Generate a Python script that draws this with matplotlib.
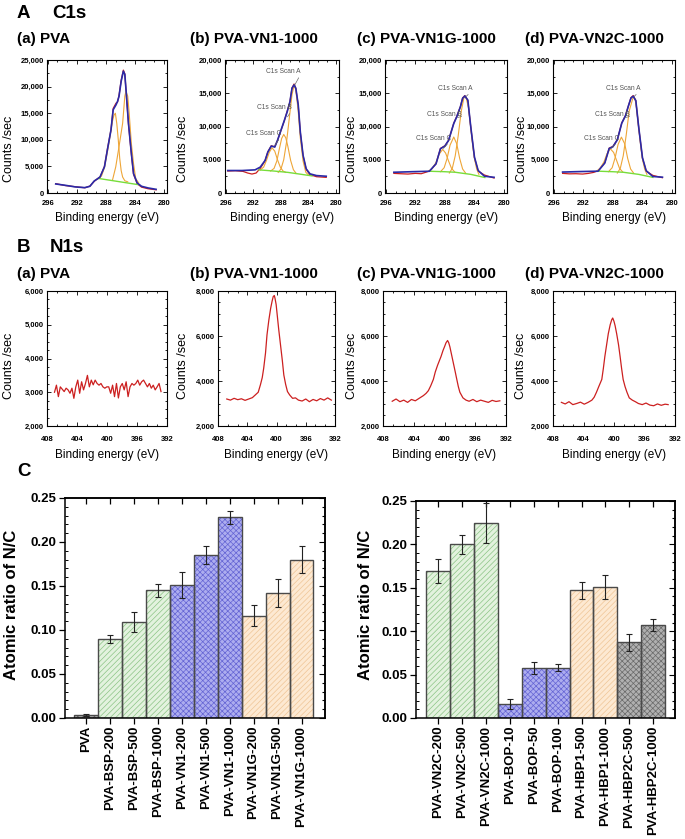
import numpy as np
import matplotlib.pyplot as plt
from matplotlib.ticker import MultipleLocator, AutoMinorLocator, FuncFormatter

plt.rcParams['font.family'] = ['Liberation Sans', 'DejaVu Sans']
plt.rcParams['font.weight'] = 'bold'
plt.rcParams['hatch.linewidth'] = 0.5

# ---------------- C1s spectra (binding energy eV, counts/sec) ----------------
c1s_a_env_x = [294.9, 293.6, 292.2, 290.9, 290.2, 289.6, 289.1, 288.8, 288.2, 287.8, 287.3, 287.0, 286.6,
               286.4, 286.2, 285.9, 285.6, 285.4, 285.2, 284.9, 284.5, 284.2, 283.7, 283.1, 282.2, 281.1]
c1s_a_env_y = [1700, 1450, 1140, 1010, 1260, 2270, 2710, 3030, 4920, 8080, 11860, 15650, 16600,
               17230, 18170, 21010, 22900, 22280, 18800, 13120, 7450, 3660, 1890, 1260, 950, 690]
c1s_a_raw_y = [1750, 1400, 1180, 980, 1300, 2200, 2750, 3000, 5000, 8200, 11900, 15900, 16900,
               17100, 18300, 21200, 23100, 22400, 18600, 13000, 7300, 3500, 1750, 1100, 800, 600]
c1s_a_p1_x = [289.0, 288.6, 288.2, 287.8, 287.4, 287.1, 286.9, 286.7, 286.5, 286.3, 286.1, 285.9, 285.7, 285.4, 285.0]
c1s_a_p1_y = [2700, 3200, 4800, 7700, 11000, 13500, 14600, 15000, 13000, 10000, 6500, 4200, 3000, 2300, 2100]
c1s_a_p2_x = [287.1, 286.65, 286.2, 285.7, 285.4, 285.25, 285.0, 284.8, 284.5, 284.2, 283.9, 283.5]
c1s_a_p2_y = [2400, 4900, 8700, 13100, 18200, 19100, 18200, 15000, 9300, 5500, 2700, 1900]
c1s_a_bg_x = [288.9, 283.6]
c1s_a_bg_y = [2710, 1580]

c1s_b_env_x = [295.7, 293.6, 291.75, 291.0, 290.3, 289.9, 289.4, 288.9, 288.5, 288.0, 287.5, 287.1,
               286.7, 286.4, 286.1, 285.85, 285.5, 285.2, 284.8, 284.35, 283.8, 282.85, 281.45]
c1s_b_env_y = [3380, 3380, 3480, 3890, 4890, 6150, 7060, 6910, 7920, 9440, 10950, 12210,
               13730, 15760, 16260, 15760, 13230, 9180, 5650, 3640, 2880, 2620, 2520]
c1s_b_raw_x = [295.7, 294.6, 293.5, 292.8, 292.2, 291.6, 291.0, 290.3, 289.9, 289.4, 288.9, 288.5, 288.0,
               287.5, 287.1, 286.7, 286.4, 286.1, 285.85, 285.5, 285.2, 284.8, 284.35, 283.8, 282.85, 281.45]
c1s_b_raw_y = [3300, 3350, 3250, 3000, 2850, 3000, 3700, 4850, 6200, 7100, 6950, 7900, 9400,
               10900, 12300, 13700, 15800, 16400, 15700, 13200, 9100, 5600, 3550, 2750, 2450, 2350]
c1s_b_pc_x = [291.0, 290.5, 290.1, 289.7, 289.3, 288.9, 288.5, 288.1, 287.7, 287.3]
c1s_b_pc_y = [3450, 3900, 4900, 6100, 6800, 6300, 5000, 3900, 3300, 3100]
c1s_b_pb_x = [289.5, 289.0, 288.6, 288.2, 287.9, 287.6, 287.3, 287.0, 286.6, 286.2, 285.8]
c1s_b_pb_y = [3300, 3700, 4800, 6800, 8200, 8800, 8300, 7000, 4900, 3500, 2950]
c1s_b_pa_x = [288.4, 288.0, 287.6, 287.2, 286.8, 286.4, 286.1, 285.85, 285.5, 285.2, 284.8, 284.4, 284.0]
c1s_b_pa_y = [3100, 3600, 5000, 7600, 11200, 14800, 16200, 15500, 12300, 8300, 4800, 3100, 2700]
c1s_b_bg_x = [291.2, 289.0, 287.0, 285.0, 283.5]
c1s_b_bg_y = [3480, 3300, 3100, 2800, 2570]

c1s_c_env_x = [294.9, 292.5, 290.1, 289.2, 288.6, 288.0, 287.5, 286.8, 286.4, 285.9, 285.6, 285.3,
               284.9, 284.5, 284.0, 283.5, 282.65, 281.35]
c1s_c_env_y = [3120, 3200, 3270, 4390, 6660, 7060, 7920, 10450, 11450, 12970, 14240, 14590,
               13980, 9940, 5390, 3380, 2520, 2360]
c1s_c_raw_x = [294.9, 294.0, 293.0, 292.0, 291.2, 290.5, 290.0, 289.2, 288.6, 288.0, 287.5, 286.8,
               286.4, 285.9, 285.6, 285.3, 284.9, 284.5, 284.0, 283.5, 282.65, 281.35]
c1s_c_raw_y = [2950, 2900, 2850, 2950, 2900, 3150, 3350, 4400, 6700, 7100, 7900, 10500,
               11500, 13000, 14300, 14650, 13900, 9900, 5300, 3300, 2700, 2250]
c1s_c_pc_x = [290.2, 289.7, 289.2, 288.8, 288.3, 287.9, 287.5, 287.1, 286.7]
c1s_c_pc_y = [3300, 3700, 4600, 5800, 6560, 6000, 4800, 3700, 3200]
c1s_c_pb_x = [288.6, 288.1, 287.7, 287.3, 286.8, 286.4, 286.0, 285.6, 285.2]
c1s_c_pb_y = [3200, 3800, 5200, 7200, 8420, 7400, 5200, 3600, 3000]
c1s_c_pa_x = [287.4, 287.0, 286.6, 286.2, 285.8, 285.4, 285.1, 284.8, 284.5, 284.2, 284.0, 283.7, 283.4]
c1s_c_pa_y = [3000, 3700, 5600, 8600, 12200, 14500, 14200, 12800, 9800, 6800, 5200, 3600, 2800]
c1s_c_bg_x = [290.1, 288.0, 286.6, 284.5, 282.6]
c1s_c_bg_y = [3270, 3200, 3120, 2800, 2330]

c1s_d_env_x = [294.8, 292.5, 290.0, 289.1, 288.5, 288.0, 287.4, 286.8, 286.3, 285.9, 285.55, 285.25,
               284.9, 284.5, 284.0, 283.5, 282.6, 281.3]
c1s_d_env_y = [3150, 3220, 3280, 4500, 6700, 6950, 8000, 10500, 11600, 13100, 14300, 14550,
               13900, 9800, 5300, 3350, 2480, 2380]
c1s_d_raw_x = [294.8, 293.9, 293.0, 292.1, 291.3, 290.6, 290.0, 289.1, 288.5, 288.0, 287.4, 286.8,
               286.3, 285.9, 285.55, 285.25, 284.9, 284.5, 284.0, 283.5, 282.6, 281.3]
c1s_d_raw_y = [2950, 2880, 2900, 2850, 2950, 3100, 3350, 4550, 6750, 7000, 8000, 10550,
               11650, 13100, 14350, 14650, 13850, 9750, 5250, 3300, 2650, 2300]
c1s_d_pc_x = [290.2, 289.7, 289.2, 288.8, 288.35, 287.9, 287.5, 287.1, 286.7]
c1s_d_pc_y = [3300, 3750, 4700, 5900, 6650, 6100, 4900, 3700, 3200]
c1s_d_pb_x = [288.6, 288.1, 287.7, 287.3, 286.85, 286.4, 286.0, 285.6, 285.2]
c1s_d_pb_y = [3200, 3800, 5300, 7300, 8400, 7400, 5200, 3600, 3000]
c1s_d_pa_x = [287.4, 287.0, 286.6, 286.2, 285.8, 285.25, 285.0, 284.8, 284.5, 284.2, 284.0, 283.7, 283.4]
c1s_d_pa_y = [3000, 3700, 5600, 8700, 12300, 14450, 14100, 12800, 9700, 6700, 5100, 3600, 2800]
c1s_d_bg_x = [290.0, 288.0, 286.6, 284.5, 282.6]
c1s_d_bg_y = [3280, 3200, 3120, 2800, 2350]

# ---------------- N1s spectra ----------------
n1s_a_y = [3000, 3210, 2870, 3160, 3090, 3020, 3120, 3070, 2970, 3120, 2820, 3160, 3360, 2970,
           3310, 3070, 3260, 3500, 3160, 3360, 3220, 3360, 3260, 3210, 3260, 3160, 3120, 3160,
           3160, 2970, 3210, 2870, 3260, 2830, 3160, 3260, 3070, 3310, 2870, 3160, 3260, 3210,
           3260, 3360, 3210, 3310, 3360, 3260, 3160, 3260, 3120, 3210, 3070, 3160, 3260, 3020]
n1s_a_x = np.linspace(407.0, 392.8, len(n1s_a_y))

n1s_b_x = [406.8, 406.3, 405.8, 405.3, 404.8, 404.3, 403.8, 403.3, 402.9, 402.5, 402.2, 401.95, 401.75, 401.5,
           401.3, 401.05, 400.8, 400.6, 400.45, 400.3, 400.2, 400.05, 399.9, 399.7, 399.45, 399.2, 399.0, 398.75,
           398.5, 398.2, 397.8, 397.4, 397.0, 396.5, 396.0, 395.5, 395.0, 394.5, 394.0, 393.5, 393.0, 392.5]
n1s_b_y = [3200, 3150, 3230, 3170, 3210, 3140, 3200, 3260, 3380, 3500, 3830, 4150, 4570, 5250,
           6050, 6700, 7230, 7550, 7750, 7800, 7670, 7400, 6930, 6300, 5600, 4900, 4270, 3850,
           3530, 3380, 3230, 3250, 3150, 3110, 3200, 3080, 3180, 3120, 3220, 3150, 3250, 3150]

n1s_c_x = [406.8, 406.3, 405.8, 405.3, 404.8, 404.3, 403.8, 403.3, 402.75, 402.4, 402.1, 401.8, 401.45,
           401.2, 400.9, 400.45, 400.2, 400.0, 399.8, 399.6, 399.45, 399.3, 399.1, 398.85, 398.6, 398.4,
           398.2, 398.0, 397.6, 397.2, 396.8, 396.3, 395.8, 395.3, 394.8, 394.3, 393.8, 393.3, 392.8]
n1s_c_y = [3100, 3200, 3080, 3150, 3050, 3180, 3120, 3230, 3350, 3450, 3570, 3780, 4070,
           4400, 4700, 5090, 5350, 5520, 5700, 5800, 5700, 5520, 5200, 4800, 4400, 4070,
           3750, 3500, 3250, 3150, 3100, 3180, 3080, 3150, 3100, 3050, 3140, 3090, 3120]

n1s_d_x = [406.9, 406.4, 405.9, 405.4, 404.9, 404.4, 403.9, 403.4, 402.9, 402.6, 402.3, 402.0, 401.6, 401.4,
           401.2, 400.95, 400.75, 400.5, 400.3, 400.17, 400.0, 399.85, 399.65, 399.4, 399.2, 399.0, 398.8,
           398.55, 398.3, 398.0, 397.6, 397.2, 396.8, 396.3, 395.8, 395.3, 394.8, 394.3, 393.8, 393.3, 392.9]
n1s_d_y = [3050, 2980, 3080, 2950, 3000, 3060, 2970, 3050, 3150, 3280, 3500, 3750, 4070, 4550,
           5090, 5650, 6100, 6500, 6720, 6800, 6650, 6450, 6100, 5600, 5090, 4550, 4070,
           3750, 3500, 3250, 3150, 3080, 3000, 2950, 3020, 2930, 2900, 2980, 2920, 2970, 2950]

# ---------------- N/C atomic ratio ----------------
left_names = ['PVA', 'PVA-BSP-200', 'PVA-BSP-500', 'PVA-BSP-1000', 'PVA-VN1-200', 'PVA-VN1-500',
              'PVA-VN1-1000', 'PVA-VN1G-200', 'PVA-VN1G-500', 'PVA-VN1G-1000']
left_vals = [0.003, 0.090, 0.109, 0.145, 0.151, 0.185, 0.228, 0.116, 0.142, 0.180]
left_errs = [0.001, 0.0045, 0.011, 0.0075, 0.015, 0.010, 0.0075, 0.012, 0.016, 0.015]
left_groups = ['grey', 'green', 'green', 'green', 'blue', 'blue', 'blue', 'peach', 'peach', 'peach']

right_names = ['PVA-VN2C-200', 'PVA-VN2C-500', 'PVA-VN2C-1000', 'PVA-BOP-10', 'PVA-BOP-50', 'PVA-BOP-100',
               'PVA-HBP1-500', 'PVA-HBP1-1000', 'PVA-HBP2C-500', 'PVA-HBP2C-1000']
right_vals = [0.169, 0.200, 0.225, 0.016, 0.058, 0.058, 0.147, 0.151, 0.087, 0.107]
right_errs = [0.014, 0.011, 0.023, 0.0055, 0.007, 0.004, 0.0095, 0.014, 0.010, 0.0065]
right_groups = ['green', 'green', 'green', 'blue', 'blue', 'blue', 'peach', 'peach', 'grey', 'grey']

# face colour, hatch colour, hatch
bar_styles = {
    'green': ('#e3f2de', '#8cc486', '//////'),
    'blue': ('#adadef', '#6464d4', 'xxxxxx'),
    'peach': ('#fde9d2', '#efc596', '//////'),
    'grey': ('#b0b0b0', '#6a6a6a', 'xxxxxx'),
}

BLUE, RED, ORANGE, GREEN = '#2a2aa8', '#cc2020', '#eea638', '#77dd3a'

W, H = 685, 839
fig = plt.figure(figsize=(W / 100, H / 100), dpi=100)


def px_axes(l, r, t, b):
    return fig.add_axes([l / W, 1 - b / H, (r - l) / W, (b - t) / H])


def ftext(x, y, s, **kw):
    fig.text(x / W, 1 - y / H, s, **kw)


def style_spectrum(ax, xlim, ylim, ystep, yminor, xpad):
    ax.set_xlim(*xlim)
    ax.set_ylim(*ylim)
    ax.xaxis.set_major_locator(MultipleLocator(4))
    ax.xaxis.set_minor_locator(AutoMinorLocator(3))
    ax.yaxis.set_major_locator(MultipleLocator(ystep))
    ax.yaxis.set_minor_locator(AutoMinorLocator(yminor))
    ax.yaxis.set_major_formatter(FuncFormatter(lambda v, p: f"{v:,.0f}"))
    ax.tick_params(which='both', direction='in', top=True, right=True, labelsize=5.5, pad=2, width=0.6)
    ax.tick_params(axis='x', pad=xpad)
    ax.tick_params(which='major', length=3)
    ax.tick_params(which='minor', length=1.5)
    for s in ax.spines.values():
        s.set_linewidth(0.8)


def annotate(ax, text, txy, xy):
    ax.annotate(text, xy=xy, xytext=txy, ha='center', va='center', fontsize=4.8, weight='normal',
                color='#555555',
                arrowprops=dict(arrowstyle='-', color='#666666', lw=0.5, relpos=(1, 0.2),
                                shrinkA=0, shrinkB=0))


# ---- Panel A: C1s ----
ftext(17, 14, 'A', fontsize=13.5, va='center')
ftext(52, 14, 'C1s', fontsize=13.5, va='center')

c1s_boxes = [(47, 167), (225, 339), (385, 507), (553, 675)]
c1s_titles = ['(a) PVA', '(b) PVA-VN1-1000', '(c) PVA-VN1G-1000', '(d) PVA-VN2C-1000']
title_x = [17, 190, 357, 525]
ylab_x = [9, 183, 352, 522]

c1s_sets = [
    dict(env=(c1s_a_env_x, c1s_a_env_y), raw=(c1s_a_env_x, c1s_a_raw_y),
         peaks=[(c1s_a_p1_x, c1s_a_p1_y), (c1s_a_p2_x, c1s_a_p2_y)], bg=(c1s_a_bg_x, c1s_a_bg_y)),
    dict(env=(c1s_b_env_x, c1s_b_env_y), raw=(c1s_b_raw_x, c1s_b_raw_y),
         peaks=[(c1s_b_pc_x, c1s_b_pc_y), (c1s_b_pb_x, c1s_b_pb_y), (c1s_b_pa_x, c1s_b_pa_y)],
         bg=(c1s_b_bg_x, c1s_b_bg_y)),
    dict(env=(c1s_c_env_x, c1s_c_env_y), raw=(c1s_c_raw_x, c1s_c_raw_y),
         peaks=[(c1s_c_pc_x, c1s_c_pc_y), (c1s_c_pb_x, c1s_c_pb_y), (c1s_c_pa_x, c1s_c_pa_y)],
         bg=(c1s_c_bg_x, c1s_c_bg_y)),
    dict(env=(c1s_d_env_x, c1s_d_env_y), raw=(c1s_d_raw_x, c1s_d_raw_y),
         peaks=[(c1s_d_pc_x, c1s_d_pc_y), (c1s_d_pb_x, c1s_d_pb_y), (c1s_d_pa_x, c1s_d_pa_y)],
         bg=(c1s_d_bg_x, c1s_d_bg_y)),
]

for i, (box, data) in enumerate(zip(c1s_boxes, c1s_sets)):
    ax = px_axes(box[0], box[1], 60, 193)
    ax.plot(*data['raw'], color=RED, lw=0.9)
    for px_, py_ in data['peaks']:
        ax.plot(px_, py_, color=ORANGE, lw=0.8)
    ax.plot(*data['bg'], color=GREEN, lw=1.0)
    ax.plot(*data['env'], color=BLUE, lw=1.2)
    style_spectrum(ax, (296.1, 279.6), (0, 25000 if i == 0 else 20000), 5000, 2, 5)
    if i == 1:
        annotate(ax, 'C1s Scan A', (287.6, 18270), (286.0, 16250))
        annotate(ax, 'C1s Scan B', (288.9, 12880), (287.05, 11450))
        annotate(ax, 'C1s Scan C', (290.45, 8940), (288.9, 7170))
    elif i > 1:
        annotate(ax, 'C1s Scan A', (286.6, 15760), (285.15, 14500))
        annotate(ax, 'C1s Scan B', (288.1, 11820), (286.3, 11350))
        annotate(ax, 'C1s Scan C', (289.55, 8270), (288.2, 6700))
    ftext(title_x[i], 39, c1s_titles[i], fontsize=11, va='center')
    ftext(ylab_x[i], 149, 'Counts /sec', rotation=90, ha='center', va='center', fontsize=9, weight='normal')
    ftext((box[0] + box[1]) / 2, 218, 'Binding energy (eV)', ha='center', va='center', fontsize=8.5,
          weight='normal')

# ---- Panel B: N1s ----
ftext(17, 248, 'B', fontsize=13.5, va='center')
ftext(50, 248, 'N1s', fontsize=13.5, va='center')

n1s_boxes = [(47, 167), (218, 335), (383, 506), (553, 675)]
n1s_sets = [(n1s_a_x, n1s_a_y), (n1s_b_x, n1s_b_y), (n1s_c_x, n1s_c_y), (n1s_d_x, n1s_d_y)]
n1s_ylab_x = [9, 183, 352, 521]

for i, (box, (sx, sy)) in enumerate(zip(n1s_boxes, n1s_sets)):
    ax = px_axes(box[0], box[1], 291, 426)
    ax.plot(sx, sy, color=RED, lw=0.9)
    if i == 0:
        style_spectrum(ax, (408, 392), (2000, 6000), 1000, 4, 7)
    else:
        style_spectrum(ax, (408, 392), (2000, 8000), 2000, 4, 7)
    ftext(title_x[i], 274, c1s_titles[i], fontsize=11, va='center')
    ftext(n1s_ylab_x[i], 366, 'Counts /sec', rotation=90, ha='center', va='center', fontsize=9, weight='normal')
    ftext((box[0] + box[1]) / 2, 455, 'Binding energy (eV)', ha='center', va='center', fontsize=8.5,
          weight='normal')

# ---- Panel C: N/C ratio ----
ftext(17, 472, 'C', fontsize=13.5, va='center')


def draw_bars(ax, names, vals, errs, groups, xlim):
    x = np.arange(len(vals))
    for xi, v, g in zip(x, vals, groups):
        face, hcol, hatch = bar_styles[g]
        ax.bar(xi, v, width=1, color=face, edgecolor=hcol, hatch=hatch, linewidth=0)
    ax.bar(x, vals, width=1, fill=False, edgecolor='#4a4a4a', linewidth=1.0)
    ax.errorbar(x, vals, yerr=errs, fmt='none', ecolor='#222222', elinewidth=0.8, capsize=2, capthick=0.8)
    ax.set_xlim(*xlim)
    ax.set_ylim(0, 0.25)
    ax.set_xticks(x)
    ax.set_xticklabels(names, rotation=90, fontsize=9.5)
    ax.yaxis.set_major_locator(MultipleLocator(0.05))
    ax.yaxis.set_minor_locator(MultipleLocator(0.01))
    ax.yaxis.set_major_formatter(FuncFormatter(lambda v, p: f"{v:.2f}"))
    ax.tick_params(axis='y', labelsize=9.5, pad=2)
    ax.tick_params(axis='y', which='major', direction='out', length=4, width=0.9)
    ax.tick_params(axis='y', which='minor', direction='in', length=2, width=0.7)
    ax.tick_params(axis='x', which='major', direction='out', length=4, width=0.9, pad=1.5)
    sec_y = ax.secondary_yaxis('right')
    sec_y.yaxis.set_major_locator(MultipleLocator(0.05))
    sec_y.yaxis.set_minor_locator(MultipleLocator(0.01))
    sec_y.tick_params(which='both', direction='in', labelright=False, width=0.8)
    sec_y.tick_params(which='major', length=4)
    sec_y.tick_params(which='minor', length=2)
    sec_x = ax.secondary_xaxis('top')
    sec_x.set_xticks(x)
    sec_x.tick_params(direction='in', labeltop=False, length=4, width=0.9)
    for s in ax.spines.values():
        s.set_linewidth(1.1)
    for s in list(sec_y.spines.values()) + list(sec_x.spines.values()):
        s.set_linewidth(1.1)


axl = px_axes(65, 325, 498, 718)
draw_bars(axl, left_names, left_vals, left_errs, left_groups, (-0.87, 9.98))
ftext(12, 605, 'Atomic ratio of N/C', rotation=90, ha='center', va='center', fontsize=12)

axr = px_axes(416, 675, 501, 718)
draw_bars(axr, right_names, right_vals, right_errs, right_groups, (-0.94, 9.92))
ftext(365, 605, 'Atomic ratio of N/C', rotation=90, ha='center', va='center', fontsize=12)

fig.savefig('out.png', dpi=100)
